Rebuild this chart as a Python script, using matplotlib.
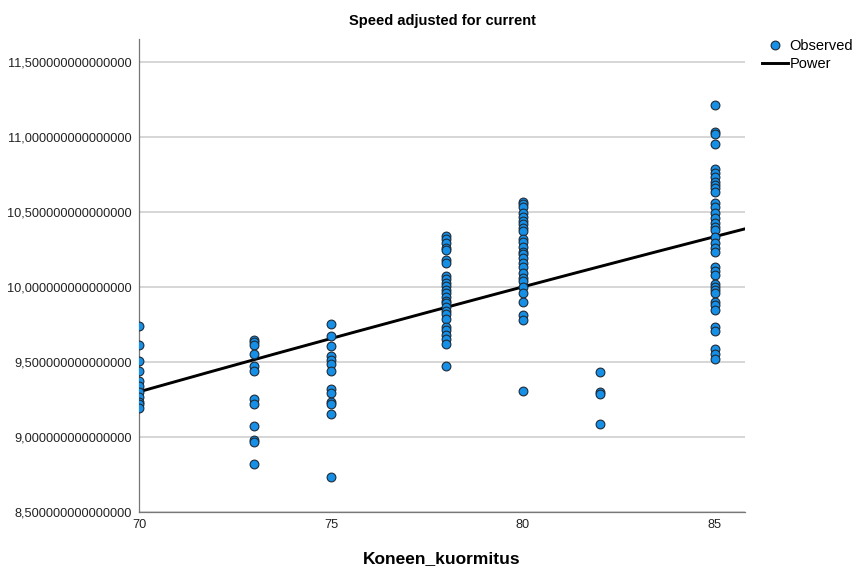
import numpy as np
import matplotlib
matplotlib.use('Agg')
import matplotlib.pyplot as plt
from matplotlib.ticker import FuncFormatter, FixedLocator
from matplotlib.lines import Line2D

plt.rcParams['font.family'] = ['Liberation Sans', 'DejaVu Sans']

# observed values, one list per load level (Koneen_kuormitus)
speed_70 = [9.74, 9.613, 9.507, 9.442, 9.375, 9.34, 9.30, 9.269, 9.235, 9.22, 9.195]
speed_73 = [9.651, 9.635, 9.613, 9.553, 9.473, 9.44, 9.258, 9.22, 9.075, 8.98, 8.971, 8.825]
speed_75 = [9.753, 9.675, 9.609, 9.542, 9.518, 9.487, 9.442, 9.325, 9.298,
            9.235, 9.225, 9.153, 8.735]
speed_78 = [10.342, 10.32, 10.297, 10.26, 10.249, 10.182, 10.16, 10.075, 10.053,
            10.027, 10.009, 9.982, 9.96, 9.933, 9.911, 9.893, 9.867, 9.844, 9.822,
            9.787, 9.737, 9.715, 9.682, 9.653, 9.622, 9.477]
speed_80 = [10.571, 10.555, 10.533, 10.493, 10.467, 10.444, 10.422, 10.393, 10.377,
            10.32, 10.304, 10.271, 10.237, 10.222, 10.193, 10.16, 10.133, 10.093,
            10.064, 10.042, 10.004, 9.96, 9.904, 9.815, 9.782, 9.309]
speed_82 = [9.433, 9.30, 9.291, 9.091]
speed_85 = [11.215, 11.037, 11.022, 10.955, 10.789, 10.76, 10.733, 10.704, 10.682,
            10.66, 10.637, 10.56, 10.533, 10.497, 10.46, 10.427, 10.404, 10.382,
            10.337, 10.293, 10.26, 10.233, 10.137, 10.111, 10.082, 10.022, 10.004,
            9.982, 9.96, 9.904, 9.882, 9.849, 9.737, 9.711, 9.587, 9.555, 9.52]

groups = {70: speed_70, 73: speed_73, 75: speed_75, 78: speed_78,
          80: speed_80, 82: speed_82, 85: speed_85}

# power fit y = a * x^b
power_a = 0.9251
power_b = 0.5433

x_ticks = [70, 75, 80, 85]
y_ticks = [8.5, 9.0, 9.5, 10.0, 10.5, 11.0, 11.5]

fig = plt.figure(figsize=(8.59, 5.71), dpi=100)
ax = fig.add_axes([139 / 859, 1 - 512.3 / 571, 606 / 859, 473 / 571])

xs = np.concatenate([[k] * len(v) for k, v in groups.items()])
ys = np.concatenate([v for v in groups.values()])

xlim = (70, 85.78)
ylim = (8.5, 11.653)

xx = np.linspace(xlim[0], xlim[1], 200)
ax.plot(xx, power_a * xx ** power_b, color='black', lw=2.1, zorder=2)
ax.scatter(xs, ys, s=40, color='#1590e6', edgecolor='#1e2a38', linewidth=0.8, zorder=3)

ax.set_xlim(*xlim)
ax.set_ylim(*ylim)
ax.xaxis.set_major_locator(FixedLocator(x_ticks))
ax.yaxis.set_major_locator(FixedLocator(y_ticks))
ax.yaxis.set_major_formatter(FuncFormatter(lambda v, p: f'{v:.15f}'.replace('.', ',')))
ax.tick_params(length=0, labelsize=9.2, colors='#222222')
ax.tick_params(axis='y', pad=5)
ax.tick_params(axis='x', pad=5)

ax.grid(axis='y', color='#d0d0d0', lw=1.2, zorder=0)
ax.set_axisbelow(True)
for s in ['top', 'right']:
    ax.spines[s].set_visible(False)
for s in ['left', 'bottom']:
    ax.spines[s].set_color('#777777')
    ax.spines[s].set_linewidth(0.9)

ax.set_title('Speed adjusted for current', fontsize=10.5, fontweight='bold', pad=10)
ax.set_xlabel('Koneen_kuormitus', fontsize=12.5, fontweight='bold', labelpad=14)

handles = [Line2D([], [], ls='none', marker='o', markersize=6.3, markerfacecolor='#1590e6',
                  markeredgecolor='#1e2a38', markeredgewidth=0.8),
           Line2D([], [], color='black', lw=2.1)]
fig.legend(handles, ['Observed', 'Power'], loc='upper left', bbox_to_anchor=(762 / 859, 1 - 39 / 571),
           frameon=False, fontsize=10.5, handlelength=1.8, handletextpad=0.1,
           labelspacing=0.3, borderpad=0, borderaxespad=0)

fig.savefig('out.png', dpi=100)
